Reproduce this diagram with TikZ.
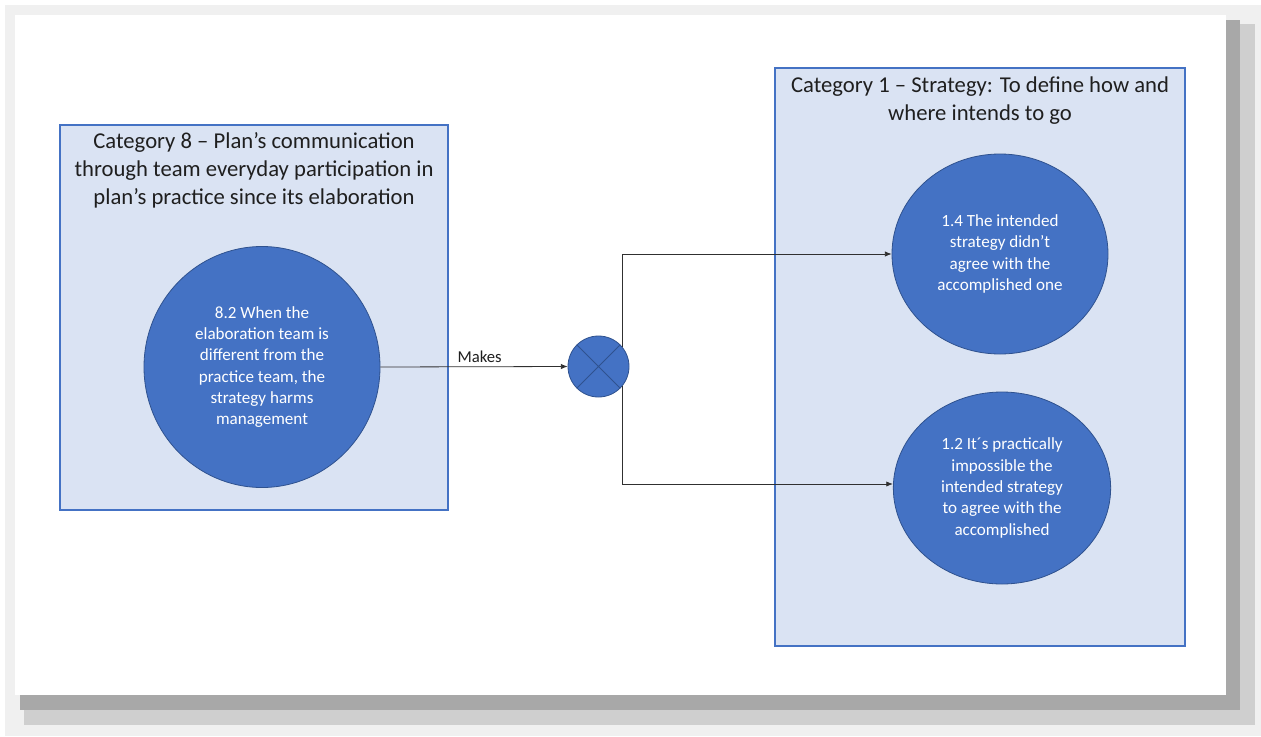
\documentclass[tikz,border=0pt]{standalone}
\usepackage{fontspec}
\setmainfont{Carlito}
\usetikzlibrary{arrows.meta,shapes.geometric}
\definecolor{boxfill}{HTML}{DAE3F3}
\definecolor{boxline}{HTML}{4472C4}
\definecolor{circfill}{HTML}{4472C4}
\definecolor{circline}{HTML}{2F528F}
\definecolor{shadowA}{HTML}{A8A8A8}
\definecolor{shadowB}{HTML}{CFCFCF}
\definecolor{shadowC}{HTML}{F0F0F0}
\definecolor{conncol}{HTML}{303030}
\begin{document}
\begin{tikzpicture}[x=0.75pt,y=-0.75pt,
  catbox/.style={draw=boxline,line width=1pt,fill=boxfill,rectangle,inner sep=0pt},
  cattitle/.style={align=center,font=\fontsize{17pt}{21pt}\selectfont,text=black!88,inner sep=0pt},
  bubble/.style={ellipse,draw=circline,line width=0.6pt,fill=circfill,text=white,align=center,
    inner sep=0pt,font=\fontsize{12.8pt}{16pt}\selectfont},
  conn/.style={draw=conncol,line width=0.6pt,-{Latex[length=5pt,width=4pt]}}]
% background and card shadow
\useasboundingbox (0,0) rectangle (1261,736);
\fill[white] (0,0) rectangle (1261,736);
\fill[shadowC] (5,5) rectangle (1261,736);
\fill[shadowB] (24,24) rectangle (1255,725);
\fill[shadowA] (20,20) rectangle (1240,710);
\fill[white] (15,15) rectangle (1226,695);
% category boxes
\node[catbox,minimum width=291pt,minimum height=288.75pt] (b8) at (254,317.5) {};
\node[catbox,minimum width=307.5pt,minimum height=433.5pt] (b1) at (980,357) {};
\node[cattitle,anchor=north] (t8) at (254,132) {Category 8 – Plan’s communication\\through team everyday participation in\\plan’s practice since its elaboration};
\node[cattitle,anchor=north] (t1) at (980,76) {Category 1 – Strategy: To define how and\\where intends to go};
% bubbles
\node[bubble,minimum width=177pt,minimum height=180.75pt] (c82) at (262,367)
  {8.2 When the\\elaboration team is\\different from the\\practice team, the\\strategy harms\\management};
\node[bubble,minimum width=162pt,minimum height=150pt] (c14) at (1000,254)
  {1.4 The intended\\strategy didn’t\\agree with the\\accomplished one};
\node[bubble,minimum width=163pt,minimum height=144pt] (c12) at (1002,488)
  {1.2 It´s practically\\impossible the\\intended strategy\\to agree with the\\accomplished};
% junction
\node[circle,draw=circline,line width=0.6pt,fill=circfill,minimum size=45.75pt,inner sep=0pt] (xc) at (598.5,366.5) {};
\draw[circline,line width=0.6pt] (xc.45) -- (xc.225) (xc.135) -- (xc.315);
% connectors
\draw[conn] (c82.east) -- node[above,pos=0.53,font=\fontsize{12.5pt}{14pt}\selectfont,text=black!88,inner sep=2.5pt] (mk) {Makes} (xc.west);
\draw[conn] (xc.40) |- (c14.west);
\draw[conn] (xc.-40) |- ([yshift=3pt]c12.west);
\end{tikzpicture}
\end{document}
